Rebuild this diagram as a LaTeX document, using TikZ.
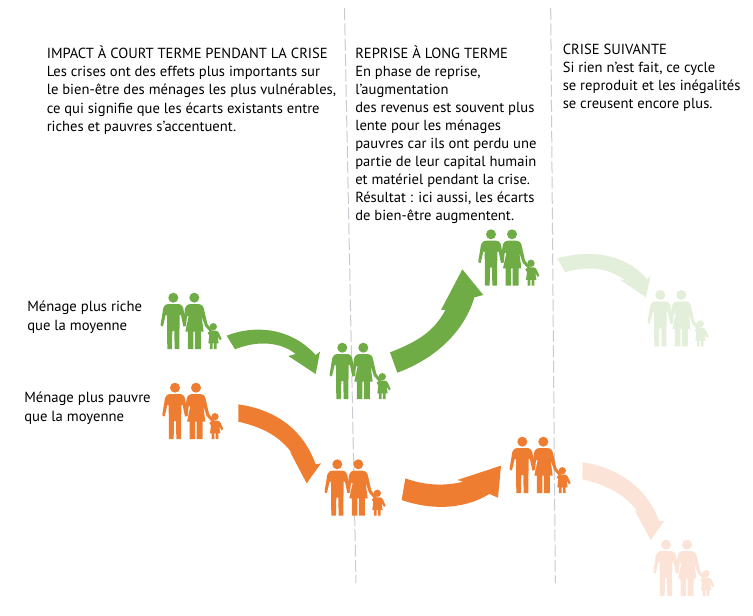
\documentclass[tikz,border=0pt]{standalone}
\usepackage{fontspec}
\setmainfont{PT Sans}
\definecolor{gr}{HTML}{6FAC46}
\definecolor{orr}{HTML}{EE7D31}
\definecolor{lgr}{HTML}{E3EEDB}
\definecolor{lor}{HTML}{FBE4D7}
\definecolor{dashc}{HTML}{C9CAD2}
\tikzset{
  x=0.75pt,y=-0.75pt,
  txt/.style={anchor=north west,inner sep=0pt,align=left,font=\fontsize{10.95}{13.7}\selectfont,text=black},
  txtb/.style={anchor=north west,inner sep=0pt,align=left,font=\fontsize{10.95}{13.5}\selectfont,text=black},
  lbl/.style={anchor=north west,inner sep=0pt,align=left,font=\fontsize{11}{14.3}\selectfont,text=black},
  divider/.style={draw=dashc,line width=0.75pt,dash pattern=on 9pt off 2.5pt},
  family/.pic={
    \begin{scope}[scale=1/3]
    \fill (0,0) circle (15);
    \fill (63,0) circle (15);
    \fill (120,87) circle (11);
    % father
    \fill (-12,19) -- (12,19) .. controls (22,19) and (28,23) .. (30,31)
      -- (37,80) -- (36,85) -- (30,86) -- (23,52) -- (19,52) -- (18,154) -- (4,154) -- (3,100) -- (-3,100) -- (-4,154) -- (-18,154) -- (-19,52) -- (-23,52)
      -- (-31,86) -- (-37,85) -- (-38,80) -- (-30,31) .. controls (-28,23) and (-22,19) .. (-12,19) -- cycle;
    % mother
    \fill (53,19) -- (73,19) .. controls (84,19) and (90,24) .. (92,34)
      -- (102,78) -- (118,100) -- (113,105) -- (95,85) -- (85,55) -- (91,102) -- (83,102) -- (83,154) -- (65,154) -- (65,102) -- (60,102) -- (60,154) -- (44,154) -- (44,102) -- (36,102)
      -- (46,56) -- (41,56) -- (38,85) -- (31,86) -- (29,76) -- (35,34) .. controls (37,24) and (43,19) .. (53,19) -- cycle;
    % child
    \fill (113,99) -- (127,99) .. controls (132,99) and (135,102) .. (137,106)
      -- (145,124) -- (140,128) -- (133,116) -- (136,137) -- (130,137) -- (130,154) -- (122,154) -- (122,137) -- (118,137) -- (118,154) -- (110,154) -- (110,137) -- (105,137) -- (108,113) -- (103,106) -- (108,101) -- cycle;
    \end{scope}
  }
}
\begin{document}
\begin{tikzpicture}
\useasboundingbox (0,0) rectangle (753,616);
\draw[divider] (344.5,8) -- (356,583);
\draw[divider] (550.7,8) -- (555.3,583);

\node[txt] (t1) at (46.5,45.5) {IMPACT À COURT TERME PENDANT LA CRISE\\Les crises ont des effets plus importants sur\\le bien-être des ménages les plus vulnérables,\\ce qui signifie que les écarts existants entre\\riches et pauvres s'accentuent.};
\node[txtb] (t2) at (355,45.5) {REPRISE À LONG TERME\\En phase de reprise,\\l'augmentation\\des revenus est souvent plus\\lente pour les ménages\\pauvres car ils ont perdu une\\partie de leur capital humain\\et matériel pendant la crise.\\Résultat : ici aussi, les écarts\\de bien-être augmentent.};
\node[txtb] (t3) at (562.5,44) {CRISE SUIVANTE\\Si rien n'est fait, ce cycle\\se reproduit et les inégalités\\se creusent encore plus.};
\node[lbl] (l1) at (27,301) {Ménage plus riche\\que la moyenne};
\node[lbl] (l2) at (24,391.5) {Ménage plus pauvre\\que la moyenne};

% arrows
\begin{scope}[shift={(150,280)},scale=1/3]
\fill[gr] (230,167) .. controls (310,135) and (420,140) .. (497,225) -- (510,215) -- (497,282) -- (415,228) -- (437,222) .. controls (385,180) and (310,185) .. (255,208) -- cycle;
\end{scope}
\begin{scope}[shift={(380,220)},scale=1/3]
\fill[gr] (30,397) .. controls (100,370) and (160,340) .. (196,270) -- (183,270) -- (247,148) -- (310,225) -- (283,232) .. controls (255,330) and (170,415) .. (52,458) -- cycle;
\end{scope}
\begin{scope}[shift={(150,370)},scale=1/3]
\fill[orr] (265,103) .. controls (380,120) and (460,180) .. (497,283) -- (513,280) -- (470,340) -- (420,245) -- (432,258) .. controls (390,195) and (330,170) .. (265,155) -- cycle;
\end{scope}
\begin{scope}[shift={(300,420)},scale=1/3]
\fill[orr] (316,175) .. controls (370,195) and (430,200) .. (490,185) -- (472,180) -- (603,137) -- (594,233) -- (568,222) .. controls (490,270) and (390,270) .. (305,240) -- cycle;
\end{scope}
\begin{scope}[shift={(540,240)},scale=1/3]
\fill[lgr] (52,55) .. controls (140,30) and (250,35) .. (322,118) -- (332,105) -- (318,172) -- (238,118) -- (256,122) .. controls (210,85) and (150,75) .. (75,97) -- cycle;
\end{scope}
\begin{scope}[shift={(560,450)},scale=1/3]
\fill[lor] (67,37) .. controls (170,50) and (265,115) .. (297,214) -- (313,212) -- (272,270) -- (222,178) -- (236,190) .. controls (200,135) and (140,105) .. (67,88) -- cycle;
\end{scope}

% families
\pic[gr] (f1) at (173.3,297.7) {family};
\pic[gr] (f2) at (342.3,347.7) {family};
\pic[gr] (f3) at (491,234.3) {family};
\pic[lgr] (f4) at (660.3,295) {family};
\pic[orr] (o1) at (175,387.7) {family};
\pic[orr] (o2) at (337.3,464.3) {family};
\pic[orr] (o3) at (522.3,441.7) {family};
\pic[lor] (o4) at (666,544.7) {family};
\end{tikzpicture}
\end{document}
